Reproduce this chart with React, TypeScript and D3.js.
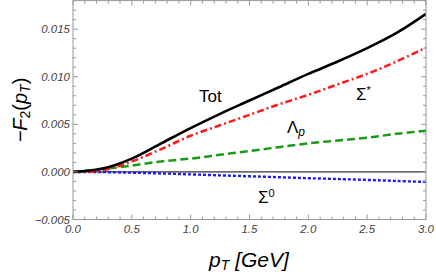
import React from "react";
import * as d3 from "d3";

const pT = [0, 0.25, 0.5, 0.75, 1.0, 1.25, 1.5, 1.75, 2.0, 2.25, 2.5, 2.75, 3.0];
const tot = [0, 0.00035, 0.0014, 0.003, 0.0046, 0.0061, 0.0075, 0.0089, 0.0103, 0.0116, 0.013, 0.0146, 0.0166];
const sigmaStar = [0, 0.00015, 0.0011, 0.0024, 0.0038, 0.0049, 0.006, 0.0071, 0.0081, 0.0092, 0.0103, 0.0116, 0.01306];
const lambdaP = [0, 0.0003, 0.00067, 0.0011, 0.0014, 0.0018, 0.0022, 0.0026, 0.003, 0.0033, 0.0036, 0.004, 0.00433];
const sigma0 = [0, -0.00002, -0.00008, -0.00016, -0.00026, -0.00036, -0.00046, -0.00056, -0.00066, -0.00075, -0.00084, -0.00095, -0.00105];

const xMajor = [0, 0.5, 1.0, 1.5, 2.0, 2.5, 3.0];
const yMajor = [-0.005, 0, 0.005, 0.01, 0.015];

const W = 436, H = 272;
const L = 73, R = 426, T = 0.6, B = 219.5;

export default function App() {
  const x = d3.scaleLinear().domain([0, 3]).range([L, R]);
  const y = d3.scaleLinear().domain([-0.005, 0.018]).range([B, T]);
  const line = (vals: number[]) =>
    d3.line<number>().x((_, i) => x(pT[i])).y((d) => y(d)).curve(d3.curveCatmullRom.alpha(0.5))(vals) || "";

  const xMinor = d3.range(0, 3.0001, 0.1).filter((v) => !xMajor.some((m) => Math.abs(m - v) < 1e-6));
  const yMinor = d3.range(-0.005, 0.0180001, 0.001).filter((v) => !yMajor.some((m) => Math.abs(m - v) < 1e-9));
  const frame = "#999";
  const tickCol = "#444";
  const font = "'Liberation Sans', Arial, sans-serif";

  const series = [
    { v: sigma0, c: "#1a1aff", dash: "3,2", w: 2.4 },
    { v: lambdaP, c: "#1a9a1a", dash: "8,4", w: 2.5 },
    { v: sigmaStar, c: "#ff1a1a", dash: "7,3,2,3", w: 2.5 },
    { v: tot, c: "#000", dash: "", w: 2.6 },
  ];

  return (
    <svg width={W} height={H} style={{ position: "absolute", left: 0, top: 0 }} fontFamily={font}>
      <rect x={0} y={0} width={W} height={H} fill="#fff" />
      <defs>
        <clipPath id="clip">
          <rect x={L} y={T} width={R - L} height={B - T} />
        </clipPath>
      </defs>
      <line x1={L} x2={R} y1={y(0)} y2={y(0)} stroke="#000" strokeWidth={1} />
      <g clipPath="url(#clip)">
        {series.map((s, i) => (
          <path key={i} d={line(s.v)} fill="none" stroke={s.c} strokeWidth={s.w} strokeDasharray={s.dash || undefined} />
        ))}
      </g>
      <rect x={L} y={T} width={R - L} height={B - T} fill="none" stroke={frame} strokeWidth={1} />
      {xMajor.map((v) => (
        <g key={"xM" + v}>
          <line x1={x(v)} x2={x(v)} y1={B} y2={B - 5} stroke={frame} />
          <line x1={x(v)} x2={x(v)} y1={T} y2={T + 5} stroke={frame} />
          <text x={x(v)} y={B + 13} textAnchor="middle" fontSize={11.5} fontStyle="italic" fill={tickCol}>
            {v.toFixed(1)}
          </text>
        </g>
      ))}
      {xMinor.map((v, i) => (
        <g key={"xm" + i}>
          <line x1={x(v)} x2={x(v)} y1={B} y2={B - 3} stroke={frame} />
          <line x1={x(v)} x2={x(v)} y1={T} y2={T + 3} stroke={frame} />
        </g>
      ))}
      {yMajor.map((v) => (
        <g key={"yM" + v}>
          <line x1={L} x2={L + 5} y1={y(v)} y2={y(v)} stroke={frame} />
          <line x1={R} x2={R - 5} y1={y(v)} y2={y(v)} stroke={frame} />
          <text x={L - 3} y={y(v) + 4} textAnchor="end" fontSize={11.5} fontStyle="italic" fill={tickCol}>
            {(v < 0 ? "\u2212" : "") + Math.abs(v).toFixed(3)}
          </text>
        </g>
      ))}
      {yMinor.map((v, i) => (
        <g key={"ym" + i}>
          <line x1={L} x2={L + 3} y1={y(v)} y2={y(v)} stroke={frame} />
          <line x1={R} x2={R - 3} y1={y(v)} y2={y(v)} stroke={frame} />
        </g>
      ))}
      <text x={199} y={102} fontSize={17} fill="#000">Tot</text>
      <text x={356} y={100} fontSize={17} fill="#000">
        Σ<tspan fontSize={11} dy={-6}>*</tspan>
      </text>
      <text x={287} y={133} fontSize={17} fill="#000">
        Λ<tspan fontSize={12} fontStyle="italic" dy={3}>p</tspan>
      </text>
      <text x={258} y={203} fontSize={17} fill="#000">
        Σ<tspan fontSize={11} dy={-6}>0</tspan>
      </text>
      <text x={249} y={267} textAnchor="middle" fontSize={21} fill="#000">
        <tspan fontStyle="italic">p</tspan>
        <tspan fontStyle="italic" fontSize={14} dy={3}>T</tspan>
        <tspan dy={-3} fontStyle="italic"> [GeV]</tspan>
      </text>
      <text transform="translate(27,110) rotate(-90)" textAnchor="middle" fontSize={20} fill="#000">
        <tspan fontStyle="italic">−F</tspan>
        <tspan fontSize={14} dy={3}>2</tspan>
        <tspan dy={-3}>(</tspan>
        <tspan fontStyle="italic">p</tspan>
        <tspan fontStyle="italic" fontSize={14} dy={3}>T</tspan>
        <tspan dy={-3}>)</tspan>
      </text>
    </svg>
  );
}
